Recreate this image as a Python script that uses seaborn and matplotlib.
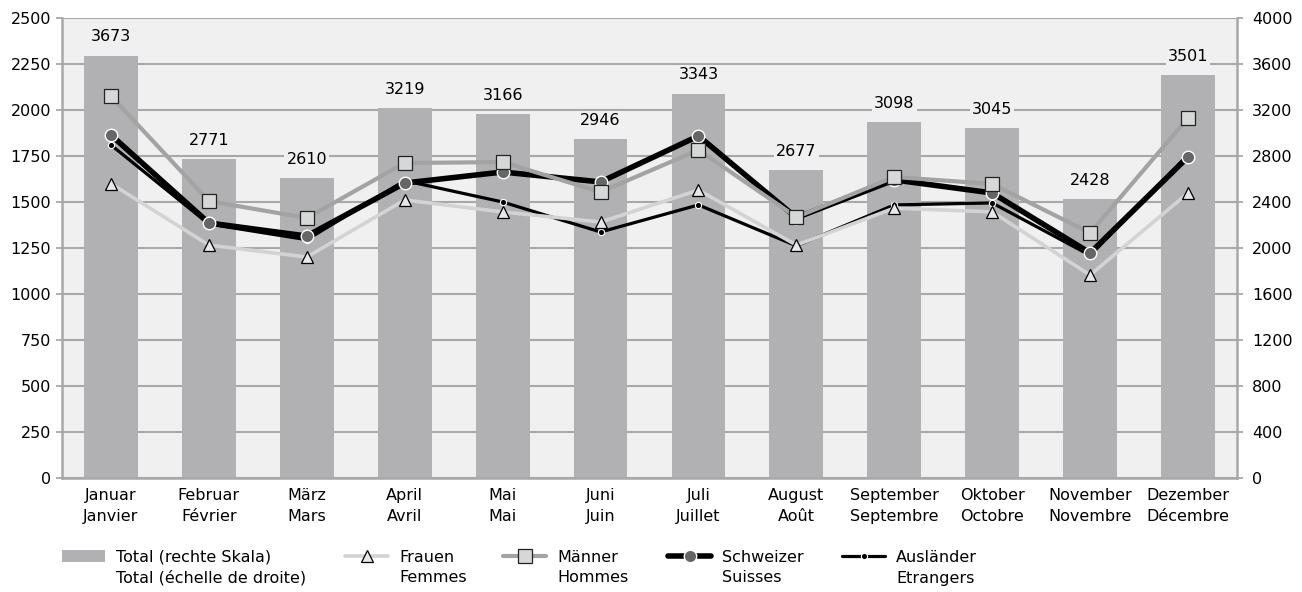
import numpy as np
import pandas as pd
import matplotlib.pyplot as plt
import seaborn as sns
from matplotlib.lines import Line2D
from matplotlib.patches import Patch

# Monatswerte (Total rechte Skala, Rest linke Skala)
months_de = ['Januar', 'Februar', 'März', 'April', 'Mai', 'Juni', 'Juli',
             'August', 'September', 'Oktober', 'November', 'Dezember']
months_fr = ['Janvier', 'Février', 'Mars', 'Avril', 'Mai', 'Juin', 'Juillet',
             'Août', 'Septembre', 'Octobre', 'Novembre', 'Décembre']
total = [3673, 2771, 2610, 3219, 3166, 2946, 3343, 2677, 3098, 3045, 2428, 3501]
frauen = [1600, 1266, 1201, 1511, 1446, 1391, 1565, 1266, 1467, 1446, 1103, 1549]
maenner = [2076, 1505, 1413, 1712, 1717, 1554, 1783, 1418, 1636, 1598, 1332, 1957]
schweizer = [1864, 1386, 1315, 1603, 1663, 1609, 1859, 1415, 1620, 1549, 1223, 1745]
auslaender = [1810, 1380, 1295, 1616, 1500, 1337, 1484, 1262, 1484, 1495, 1210, 1756]

left_ticks = np.arange(0, 2501, 250)
right_ticks = np.arange(0, 4001, 400)

sns.set_style("white", {'text.color': 'black', 'xtick.color': 'black',
                        'ytick.color': 'black'})
plt.rcParams['font.family'] = ['DejaVu Sans']
fs = 11.5
plt.rcParams['font.size'] = fs

bg = '#f0f0f0'
grid_col = '#a8a8a8'
bar_col = '#b1b1b3'

W, H = 1302, 592
fig = plt.figure(figsize=(W / 100, H / 100), dpi=100)
ax_bar = fig.add_axes([62 / W, 1 - 478 / H, (1237 - 62) / W, (478 - 18) / H])
ax_line = ax_bar.twinx()

labels = [d + '\n' + f for d, f in zip(months_de, months_fr)]
df_total = pd.DataFrame({'monat': labels, 'total': total})
sns.barplot(data=df_total, x='monat', y='total', ax=ax_bar, color=bar_col,
            saturation=1, width=0.55, zorder=2, edgecolor='none', linewidth=0)
ax_bar.bar_label(ax_bar.containers[0], padding=8, fontsize=fs, color='black',
                 bbox=dict(facecolor=bg, edgecolor='none', pad=1.5))

ax_bar.set_facecolor(bg)
ax_bar.set_axisbelow(True)
ax_bar.yaxis.grid(True, color=grid_col, lw=1.5)
ax_bar.set_ylim(0, 4000)
ax_bar.set_yticks(right_ticks)

# Linien
x = np.arange(len(months_de))
styles = [
    (auslaender, dict(color='black', lw=2.3, marker='o', markersize=4.5,
                      mfc='black', mec='white', mew=0.8, zorder=2)),
    (schweizer, dict(color='black', lw=4.0, marker='o', markersize=9,
                     mfc='#666666', mec='white', mew=1.0, zorder=3)),
    (frauen, dict(color='#d3d3d3', lw=2.6, marker='^', markersize=9,
                  mfc='#e8e8e8', mec='black', mew=0.9, zorder=4)),
    (maenner, dict(color='#a3a3a3', lw=3.0, marker='s', markersize=9.5,
                   mfc='#d6d8d8', mec='#222222', mew=0.9, zorder=5)),
]
for vals, kw in styles:
    sns.lineplot(x=x, y=vals, ax=ax_line, **kw)

ax_line.set_ylim(0, 2500)
ax_line.set_yticks(left_ticks)

# Achsen tauschen: Linien links, Balken rechts
ax_line.yaxis.tick_left()
ax_line.yaxis.set_label_position('left')
ax_bar.yaxis.tick_right()
ax_bar.set_xlim(-0.5, len(months_de) - 0.5)
ax_bar.set_xlabel('')
ax_bar.set_ylabel('')
ax_line.set_xlabel('')
ax_line.set_ylabel('')

for sp in ax_bar.spines.values():
    sp.set_visible(False)
for name, sp in ax_line.spines.items():
    sp.set_visible(name != 'top')
    sp.set_color(grid_col)
    sp.set_linewidth(1.8)

ax_bar.tick_params(axis='x', length=0, pad=7, labelsize=fs, labelcolor='black')
ax_bar.tick_params(axis='y', right=True, left=False, length=4, width=1.3,
                   color=grid_col, pad=7, labelsize=fs, labelcolor='black')
ax_line.tick_params(axis='y', left=True, right=False, length=4, width=1.3,
                    color=grid_col, pad=4, labelsize=fs, labelcolor='black')
for t in ax_bar.get_xticklabels():
    t.set_linespacing(1.55)

# Legende (zweisprachig, Symbol auf erster Zeile)
def legend_line(kw):
    return Line2D([], [], **{k: v for k, v in kw.items() if k != 'zorder'})

entries = [
    (Patch(facecolor=bar_col, edgecolor='none'),
     'Total (rechte Skala)', 'Total (échelle de droite)', 62),
    (legend_line(styles[2][1]), 'Frauen', 'Femmes', 345),
    (legend_line(styles[3][1]), 'Männer', 'Hommes', 503),
    (legend_line(styles[1][1]), 'Schweizer', 'Suisses', 668),
    (legend_line(styles[0][1]), 'Ausländer', 'Etrangers', 842),
]
for handle, de, fr, x0 in entries:
    rows = [(de, handle, 557), (fr, Line2D([], [], color='none', lw=0), 578)]
    for text, h, ypix in rows:
        leg = fig.legend(handles=[h], labels=[text], loc='center left',
                         bbox_to_anchor=(x0 / W, 1 - ypix / H), frameon=False,
                         borderpad=0, borderaxespad=0, handlelength=2.7,
                         handleheight=0.8, handletextpad=0.7, fontsize=fs,
                         labelcolor='black')

fig.savefig('out.png', dpi=100, facecolor='white')
